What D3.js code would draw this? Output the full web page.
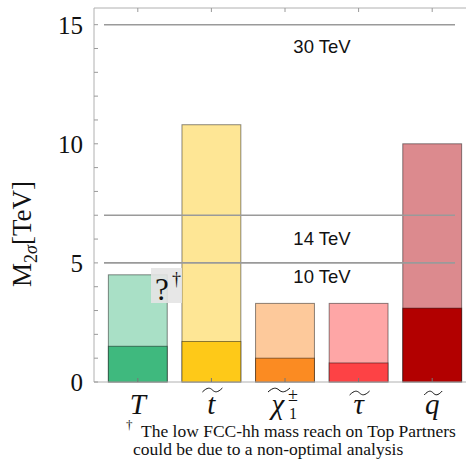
<!DOCTYPE html>
<html>
<head>
<meta charset="utf-8">
<script src="https://cdn.jsdelivr.net/npm/d3@7/dist/d3.min.js"></script>
<style>
  html, body { margin: 0; padding: 0; background: #fff; }
  svg { display: block; }
</style>
</head>
<body>
<svg id="chart" width="466" height="463"></svg>
<script>
// Mass reach (2σ) per particle class, in TeV
const categories = ["T", "t", "chi", "tau", "q"];
const reach30 = [4.5, 10.8, 3.3, 3.3, 10.0];   // upper, lighter part of each bar
const reach14 = [1.5, 1.7, 1.0, 0.8, 3.1];     // lower, darker part of each bar
const lightColors = ["#a9e0c6", "#fee695", "#fdc99b", "#fea6a6", "#dc8a8e"];
const darkColors = ["#3fb97e", "#fec918", "#fb8b22", "#fd4245", "#b20000"];
const collider = [
  { label: "30 TeV", value: 15, labelValue: 13.8 },
  { label: "14 TeV", value: 7, labelValue: 5.75 },
  { label: "10 TeV", value: 5, labelValue: 4.15 }
];
const yTickLabels = [0, 5, 10, 15];

const svg = d3.select("#chart");
const plotL = 94, plotR = 466, plotT = 8, plotB = 382;

const y = d3.scaleLinear().domain([0, 15.7]).range([plotB, plotT]);
const x = d3.scaleBand().domain(categories).range([101, 469])
  .paddingInner(0.2).paddingOuter(0.1);

const serif = "'Liberation Serif', 'DejaVu Serif', serif";
const sans = "'Liberation Sans', Arial, sans-serif";

// Bars: full reach (light) with the lower reach (dark) on top
const g = svg.append("g");
g.selectAll("rect.full").data(categories).join("rect")
  .attr("x", d => x(d)).attr("width", x.bandwidth())
  .attr("y", (d, i) => y(reach30[i]))
  .attr("height", (d, i) => y(0) - y(reach30[i]))
  .attr("fill", (d, i) => lightColors[i])
  .attr("stroke", "#000").attr("stroke-opacity", 0.45).attr("stroke-width", 1);
g.selectAll("rect.low").data(categories).join("rect")
  .attr("x", d => x(d)).attr("width", x.bandwidth())
  .attr("y", (d, i) => y(reach14[i]))
  .attr("height", (d, i) => y(0) - y(reach14[i]))
  .attr("fill", (d, i) => darkColors[i])
  .attr("stroke", "#000").attr("stroke-opacity", 0.45).attr("stroke-width", 1);

// Collider energy reference lines
svg.selectAll("line.ref").data(collider).join("line")
  .attr("x1", 104).attr("x2", 455)
  .attr("y1", d => y(d.value)).attr("y2", d => y(d.value))
  .attr("stroke", "#9a9a9a").attr("stroke-width", 1.6);
svg.selectAll("text.ref").data(collider).join("text")
  .attr("x", 322).attr("y", d => y(d.labelValue))
  .attr("text-anchor", "middle")
  .attr("font-family", sans).attr("font-size", 18.5).attr("fill", "#111")
  .text(d => d.label);

// Frame
const frame = svg.append("g").attr("stroke", "#b0b0b0").attr("stroke-width", 1).attr("fill", "none");
frame.append("path").attr("d", `M${plotL},${plotT}H${plotR}M${plotL},${plotT}V${plotB}H${plotR}`);

// Y axis: inward ticks every 1 TeV
const yTicks = d3.range(0, 16);
svg.selectAll("line.ytick").data(yTicks).join("line")
  .attr("x1", plotL).attr("x2", plotL + 4)
  .attr("y1", d => y(d)).attr("y2", d => y(d))
  .attr("stroke", "#9a9a9a").attr("stroke-width", 1);
svg.selectAll("text.ylab").data(yTickLabels).join("text")
  .attr("x", 83).attr("y", d => y(d) + 9)
  .attr("text-anchor", "end")
  .attr("font-family", serif).attr("font-size", 25).attr("fill", "#111")
  .text(d => d);

// X ticks at bar centres (bottom and top)
svg.selectAll("line.xtick").data(categories).join("line")
  .attr("x1", d => x(d) + x.bandwidth() / 2).attr("x2", d => x(d) + x.bandwidth() / 2)
  .attr("y1", plotB).attr("y2", plotB - 4)
  .attr("stroke", "#777");
svg.selectAll("line.xtickTop").data(categories).join("line")
  .attr("x1", d => x(d) + x.bandwidth() / 2).attr("x2", d => x(d) + x.bandwidth() / 2)
  .attr("y1", plotT).attr("y2", plotT + 4)
  .attr("stroke", "#9a9a9a");

// Y axis title
const yTitle = svg.append("text")
  .attr("transform", "translate(31,234) rotate(-90)")
  .attr("text-anchor", "middle")
  .attr("font-family", serif).attr("font-size", 27).attr("fill", "#111");
yTitle.append("tspan").text("M");
yTitle.append("tspan").attr("font-size", 18).attr("dy", 6).text("2");
yTitle.append("tspan").attr("font-size", 18).attr("font-style", "italic").text("σ");
yTitle.append("tspan").attr("dy", -6).text("[TeV]");

// Category labels (italic symbols with wide tildes)
const cx = d => x(d) + x.bandwidth() / 2;
const labY = 414;
const labelG = svg.append("g").attr("font-family", serif).attr("fill", "#111");
const glyph = { T: "T", t: "t", chi: "χ", tau: "τ", q: "q" };
const tilde = { t: [20, 390], chi: [22, 390], tau: [20, 393], q: [18, 393] };
const tildePath = w => `M${-w / 2},2 C${-w / 4},-3 ${-w / 8},-2.4 0,0 C${w / 8},2.4 ${w / 4},3 ${w / 2},-2`;
categories.forEach(c => {
  const px = c === "chi" ? cx(c) - 7 : cx(c);
  labelG.append("text").attr("x", px).attr("y", labY)
    .attr("text-anchor", "middle").attr("font-size", 29).attr("font-style", "italic")
    .text(glyph[c]);
  if (tilde[c]) {
    labelG.append("path")
      .attr("transform", `translate(${px + 1},${tilde[c][1]})`)
      .attr("d", tildePath(tilde[c][0]))
      .attr("fill", "none").attr("stroke", "#111").attr("stroke-width", 1.0);
  }
});
// superscript and subscript on the chargino
labelG.append("text").attr("x", cx("chi") + 3).attr("y", labY - 13)
  .attr("font-size", 18).text("±");
labelG.append("text").attr("x", cx("chi") + 4).attr("y", labY + 5)
  .attr("font-size", 16).text("1");

// Marker on the top-partner bar
svg.append("rect").attr("x", 151).attr("y", 268).attr("width", 31).attr("height", 35)
  .attr("fill", "#e4e4e4").attr("opacity", 0.9);
svg.append("text").attr("x", 162).attr("y", 300).attr("text-anchor", "middle")
  .attr("font-family", serif).attr("font-size", 31).attr("fill", "#111").text("?");
svg.append("text").attr("x", 172).attr("y", 285)
  .attr("font-family", serif).attr("font-size", 18).attr("fill", "#111").text("†");

// Footnote
const foot = svg.append("g").attr("font-family", serif).attr("fill", "#111");
foot.append("text").attr("x", 126).attr("y", 429).attr("font-size", 13).text("†");
foot.append("text").attr("x", 141).attr("y", 437).attr("font-size", 17.5)
  .text("The low FCC-hh mass reach on Top Partners");
foot.append("text").attr("x", 133).attr("y", 455).attr("font-size", 17.5)
  .text("could be due to a non-optimal analysis");
</script>
</body>
</html>
